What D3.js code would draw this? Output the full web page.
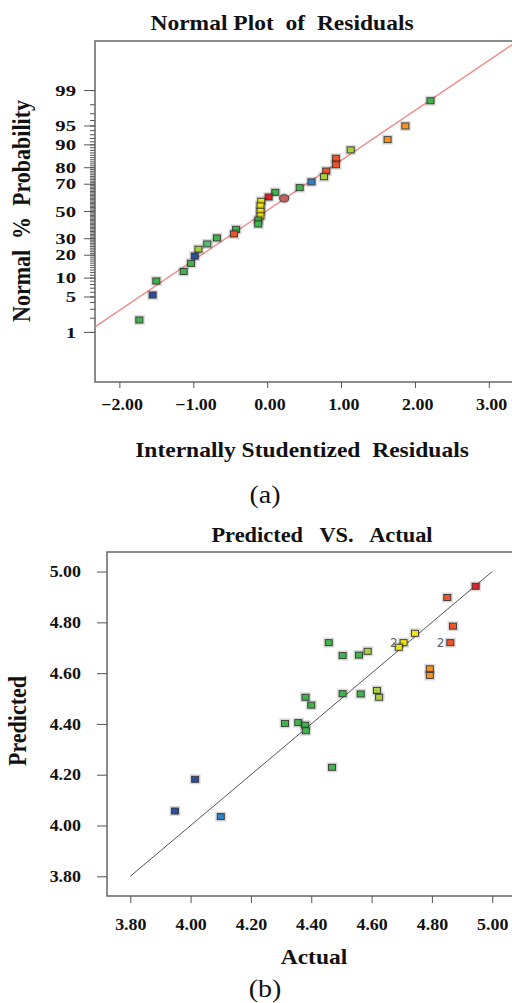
<!DOCTYPE html>
<html>
<head>
<meta charset="utf-8">
<script src="https://cdn.jsdelivr.net/npm/d3@7"></script>
<style>
body { margin: 0; background: #fff; }
svg text { font-family: "Liberation Serif", "Times New Roman", serif; fill: #111; }
.tick line { stroke: #555; }
</style>
</head>
<body>
<svg id="chart" width="512" height="1003"></svg>
<script>
// horizontal stretch of the original lettering
var SX = 1.12;

var palette = {
    G: "#3fb44b", YG: "#a9cf3a", T: "#56be74", Y: "#f2e514", O: "#f6931e",
    RO: "#f0522a", R: "#e3202a", B: "#2f80c6", DB: "#2c4f9c", C: "#c4605f"
};

// ---- (a) normal plot of residuals
var residuals = [2.21, 1.87, 1.63, 1.13, 0.93, 0.93, 0.80, 0.77, 0.60, 0.44, 0.11, 0.23, 0.02,
    -0.08, -0.09, -0.09, -0.09, -0.12, -0.12, -0.42, -0.45, -0.68, -0.81, -0.93, -0.98,
    -1.03, -1.13, -1.50, -1.55, -1.73];
var probPct = [98.3, 94.9, 91.5, 88.0, 84.5, 81.3, 77.9, 74.5, 71.2, 67.3, 64.0, 59.6, 60.6,
    57.4, 53.8, 49.8, 46.2, 43.1, 40.1, 36.2, 32.9, 30.2, 26.3, 23.1, 19.3,
    15.7, 12.2, 8.9, 5.3, 1.8];
var residColors = ["G", "O", "O", "YG", "RO", "RO", "RO", "YG", "B", "G", "G", "C", "R",
    "Y", "Y", "Y", "Y", "G", "G", "G", "RO", "G", "T", "YG", "DB",
    "G", "G", "G", "DB", "G"];
var probTicks = [1, 5, 10, 20, 30, 50, 70, 80, 90, 95, 99];
var residTicks = [-2, -1, 0, 1, 2, 3];
var fitLine = [[-2.33, -2.23], [3.40, 3.28]]; // residual, normal score

// ---- (b) predicted vs actual
var actual = [4.945, 4.851, 4.870, 4.861, 4.793, 4.793, 4.744, 4.706, 4.690, 4.458, 4.504,
    4.558, 4.587, 4.504, 4.564, 4.618, 4.625, 4.381, 4.400, 4.313, 4.357, 4.380, 4.382,
    4.469, 4.015, 3.948, 4.100];
var predicted = [4.942, 4.898, 4.785, 4.720, 4.617, 4.591, 4.757, 4.720, 4.702, 4.720, 4.669,
    4.671, 4.686, 4.519, 4.518, 4.532, 4.505, 4.505, 4.474, 4.402, 4.405, 4.395, 4.373,
    4.229, 4.182, 4.057, 4.035];
var predColors = ["R", "RO", "RO", "RO", "O", "O", "Y", "Y", "Y", "G", "G",
    "G", "YG", "G", "G", "YG", "YG", "G", "G", "G", "G", "G", "G",
    "G", "DB", "DB", "B"];
var repeats = ["", "", "", "2", "", "", "", "2", "", "", "",
    "", "", "", "", "", "", "", "", "", "", "", "",
    "", "", "", ""];
var valueTicks = [3.8, 4.0, 4.2, 4.4, 4.6, 4.8, 5.0];
var diagLine = [3.8, 5.0];

// inverse normal cdf (Acklam)
function probit(p) {
    var a = [-39.69683028665376, 220.9460984245205, -275.9285104469687, 138.3577518672690, -30.66479806614716, 2.506628277459239];
    var b = [-54.47609879822406, 161.5858368580409, -155.6989798598866, 66.80131188771972, -13.28068155288572];
    var c = [-0.007784894002430293, -0.3223964580411365, -2.400758277161838, -2.549732539343734, 4.374664141464968, 2.938163982698783];
    var d = [0.007784695709041462, 0.3224671290700398, 2.445134137142996, 3.754408661907416];
    var q, r;
    if (p < 0.02425) {
        q = Math.sqrt(-2 * Math.log(p));
        return (((((c[0]*q+c[1])*q+c[2])*q+c[3])*q+c[4])*q+c[5]) / ((((d[0]*q+d[1])*q+d[2])*q+d[3])*q+1);
    }
    if (p > 1 - 0.02425) {
        q = Math.sqrt(-2 * Math.log(1 - p));
        return -(((((c[0]*q+c[1])*q+c[2])*q+c[3])*q+c[4])*q+c[5]) / ((((d[0]*q+d[1])*q+d[2])*q+d[3])*q+1);
    }
    q = p - 0.5; r = q * q;
    return (((((a[0]*r+a[1])*r+a[2])*r+a[3])*r+a[4])*r+a[5])*q / (((((b[0]*r+b[1])*r+b[2])*r+b[3])*r+b[4])*r+1);
}

var svg = d3.select("#chart");

function label(str, x, y, size, opts) {
    opts = opts || {};
    var t = svg.append("text")
        .attr("transform", "translate(" + x + "," + y + ")" + (opts.rotate ? " scale(" + SX + ",1) rotate(-90)" : " scale(" + SX + ",1)"))
        .attr("text-anchor", opts.anchor || "middle")
        .style("font-size", size + "px")
        .style("font-weight", opts.normal ? "normal" : "bold")
        .style("white-space", "pre")
        .text(str);
    return t;
}

function styleTicks(g, size, dx, sx) {
    sx = sx || SX;
    g.select(".domain").remove();
    g.selectAll("text")
        .style("font-size", size + "px")
        .style("font-weight", "bold")
        .style("font-family", '"Liberation Serif", "Times New Roman", serif')
        .attr("fill", "#111");
    if (dx != null) {
        g.selectAll("text").attr("x", dx / sx).attr("transform", "scale(" + sx + ",1)");
    } else {
        g.selectAll("text").attr("transform", "scale(" + sx + ",1)");
    }
}

function squares(g, xs, ys, cols, x, y) {
    var pts = g.selectAll("g.pt").data(d3.range(xs.length)).enter().append("g").attr("class", "pt");
    pts.each(function(i) {
        var el = d3.select(this);
        var cx = x(xs[i]), cy = y(ys[i]);
        if (cols[i] === "C") {
            el.append("ellipse").attr("cx", cx).attr("cy", cy).attr("rx", 5.5).attr("ry", 4.5)
                .attr("fill", "none").attr("stroke", "rgba(0,0,0,0.15)").attr("stroke-width", 2);
            el.append("ellipse").attr("cx", cx).attr("cy", cy).attr("rx", 4.5).attr("ry", 3.6)
                .attr("fill", palette.C).attr("stroke", "#333").attr("stroke-width", 0.9);
        } else {
            el.append("rect").attr("x", cx - 4.5).attr("y", cy - 4).attr("width", 9).attr("height", 8)
                .attr("fill", "none").attr("stroke", "rgba(0,0,0,0.15)").attr("stroke-width", 2);
            el.append("rect").attr("x", cx - 3.5).attr("y", cy - 3).attr("width", 7).attr("height", 6)
                .attr("fill", palette[cols[i]]).attr("stroke", "#333").attr("stroke-width", 0.9);
        }
    });
}

// ================= (a) =================
var xA = d3.scaleLinear().domain([-2.33, 3.40]).range([95, 518.4]);
var zA = d3.scaleLinear().domain([-3.29, 3.27]).range([382, 41]);

var gA = svg.append("g");
gA.append("rect").attr("x", 95).attr("y", 41).attr("width", 430).attr("height", 341)
    .attr("fill", "none").attr("stroke", "#666").attr("stroke-width", 1.5);

gA.append("g").attr("transform", "translate(95,0)")
    .call(d3.axisLeft(zA).tickValues(d3.range(1, 100).map(function(p) { return probit(p / 100); }))
        .tickSize(5).tickFormat(""))
    .call(function(g) { g.select(".domain").remove(); g.selectAll("line").attr("stroke", "#666"); });

gA.append("g").attr("transform", "translate(95,0)")
    .call(d3.axisLeft(zA).tickValues(probTicks.map(function(p) { return probit(p / 100); }))
        .tickSize(11).tickPadding(8).tickFormat(function(d, i) { return probTicks[i]; }))
    .call(function(g) { styleTicks(g, 15, -19, 1.38); g.selectAll("text").attr("dy", "0.34em"); });

gA.append("g").attr("transform", "translate(0,382)")
    .call(d3.axisBottom(xA).tickValues(residTicks).tickSize(6).tickPadding(11)
        .tickFormat(d3.format(".2f")))
    .call(function(g) { styleTicks(g, 16); g.selectAll("text").attr("x", 2); });

gA.append("line")
    .attr("x1", xA(fitLine[0][0])).attr("y1", zA(fitLine[0][1]))
    .attr("x2", xA(fitLine[1][0])).attr("y2", zA(fitLine[1][1]))
    .attr("stroke", "#f28b8b").attr("stroke-width", 1.4);

squares(gA, residuals, probPct.map(function(p) { return probit(p / 100); }), residColors, xA, zA);

label("Normal Plot  of  Residuals", 282, 30, 21);
label("Normal  %  Probability", 30, 211, 22, { rotate: true });
label("Internally Studentized  Residuals", 302, 457, 21);
label("(a)", 265, 503, 25, { normal: true });

// ================= (b) =================
var xB = d3.scaleLinear().domain([3.7228, 5.1]).range([107, 522.4]);
var yB = d3.scaleLinear().domain([3.7224, 5.077]).range([896, 552]);

var gB = svg.append("g");
gB.append("rect").attr("x", 107).attr("y", 552).attr("width", 420).attr("height", 344)
    .attr("fill", "none").attr("stroke", "#666").attr("stroke-width", 1.5);

gB.append("g").attr("transform", "translate(107,0)")
    .call(d3.axisLeft(yB).tickValues(valueTicks).tickSize(10).tickPadding(16).tickFormat(d3.format(".2f")))
    .call(function(g) { styleTicks(g, 16, -26); g.selectAll("line").attr("stroke", "#666"); });

gB.append("g").attr("transform", "translate(0,896)")
    .call(d3.axisBottom(xB).tickValues(valueTicks).tickSize(7).tickPadding(16).tickFormat(d3.format(".2f")))
    .call(function(g) { styleTicks(g, 16); g.selectAll("line").attr("stroke", "#666"); });

gB.append("line")
    .attr("x1", xB(diagLine[0])).attr("y1", yB(diagLine[0]))
    .attr("x2", xB(diagLine[1])).attr("y2", yB(diagLine[1]))
    .attr("stroke", "#555").attr("stroke-width", 1);

squares(gB, actual, predicted, predColors, xB, yB);

gB.selectAll("text.rep").data(d3.range(repeats.length).filter(function(i) { return repeats[i]; }))
    .enter().append("text").attr("class", "rep")
    .attr("x", function(i) { return xB(actual[i]) - 6; })
    .attr("y", function(i) { return yB(predicted[i]) + 4; })
    .attr("text-anchor", "end")
    .style("font-family", "'DejaVu Sans', sans-serif")
    .style("font-size", "12px")
    .style("fill", "#555a6a")
    .text(function(i) { return repeats[i]; });

label("Predicted   VS.   Actual", 322, 542, 20);
label("Predicted", 26, 721, 22, { rotate: true });
label("Actual", 314, 964, 21);
label("(b)", 265, 997, 25, { normal: true });
</script>
</body>
</html>
